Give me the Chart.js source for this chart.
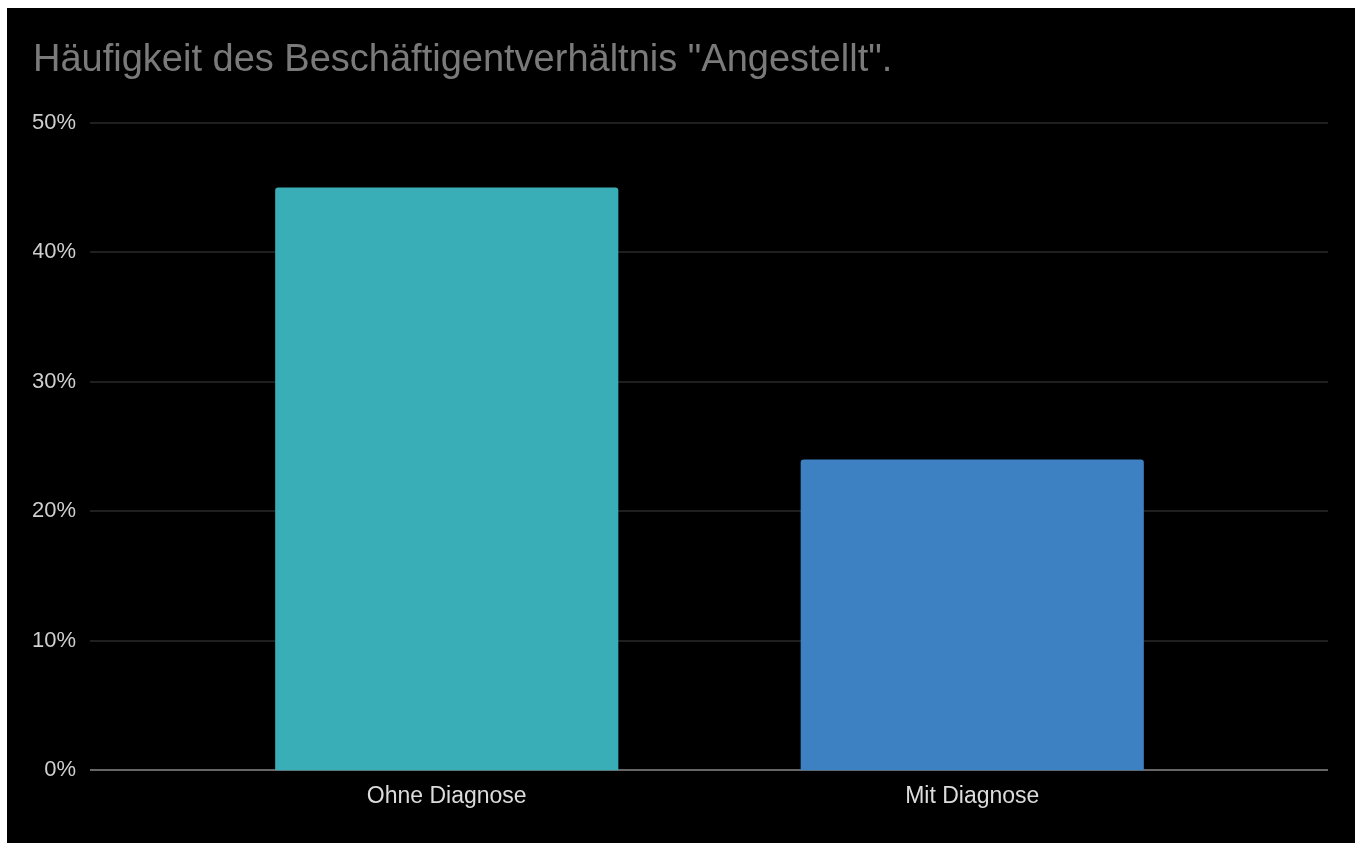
<!DOCTYPE html>
<html>
<head>
<meta charset="utf-8">
<script src="https://cdn.jsdelivr.net/npm/chart.js@4"></script>
<style>
  html, body { margin: 0; padding: 0; background: #fff; }
  #wrap { position: absolute; left: 7px; top: 8px; width: 1348px; height: 835px; background: #000; }
</style>
</head>
<body>
<div id="wrap"><canvas id="myChart"></canvas></div>
<script>
const categories = ['Ohne Diagnose', 'Mit Diagnose'];
const values = [45, 24];
const barColors = ['#39aeb7', '#3d81c3'];
const yTicks = [0, 10, 20, 30, 40, 50];

const FONT = "'Liberation Sans', Arial, sans-serif";

// horizontal grid lines run wider than the bars' category band
const wideGrid = {
  id: 'wideGrid',
  beforeDatasetsDraw(chart) {
    const ctx = chart.ctx;
    const y = chart.scales.y;
    const x0 = 83, x1 = 1321;
    ctx.save();
    yTicks.forEach(v => {
      const py = Math.round(y.getPixelForValue(v));
      ctx.beginPath();
      if (v === 0) {
        ctx.strokeStyle = '#666';
        ctx.lineWidth = 2;
      } else {
        ctx.strokeStyle = '#2a2a2a';
        ctx.lineWidth = 1.5;
      }
      ctx.moveTo(x0, py);
      ctx.lineTo(x1, py);
      ctx.stroke();
    });
    ctx.restore();
  }
};

const ctx = document.getElementById('myChart').getContext('2d');
const chart = new Chart(ctx, {
  type: 'bar',
  data: {
    labels: categories,
    datasets: [{
      label: 'Angestellt',
      data: values,
      backgroundColor: barColors,
      borderRadius: { topLeft: 3, topRight: 3 },
      borderSkipped: 'bottom',
      categoryPercentage: 1,
      barPercentage: 0.653
    }]
  },
  options: {
    responsive: true,
    maintainAspectRatio: false,
    animation: false,
    layout: {
      padding: { left: 26, right: 120, top: 0, bottom: 21 }
    },
    plugins: {
      legend: { display: false },
      tooltip: { enabled: false },
      title: {
        display: true,
        text: 'Häufigkeit des Beschäftigentverhältnis "Angestellt".',
        align: 'start',
        color: '#7a7a7a',
        font: { family: FONT, size: 38, weight: 'normal' },
        padding: { top: 30, bottom: 39 }
      }
    },
    scales: {
      x: {
        grid: { display: false, drawTicks: false },
        border: { display: false },
        ticks: {
          color: '#dcdcdc',
          font: { family: FONT, size: 23 },
          padding: 12,
          maxRotation: 0
        }
      },
      y: {
        min: 0,
        max: 50,
        afterFit: (scale) => {
          // wide label gap without pushing the chart area down
          scale.width = 151;
          scale.paddingTop = 13;
          scale.paddingBottom = 13;
        },
        grid: { display: false, drawTicks: false },
        border: { display: false },
        ticks: {
          stepSize: 10,
          color: '#cfcfcf',
          font: { family: FONT, size: 22 },
          padding: 108,
          callback: (v) => v + '%'
        }
      }
    }
  },
  plugins: [wideGrid]
});
</script>
</body>
</html>
